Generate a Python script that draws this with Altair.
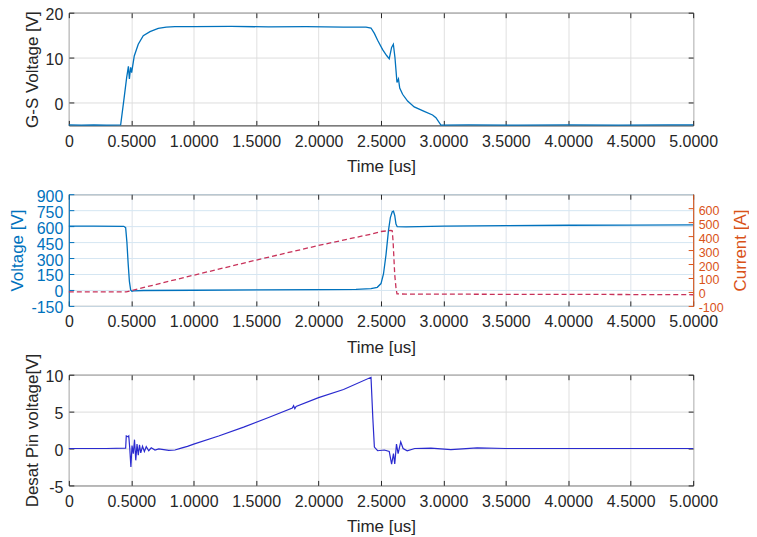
import altair as alt
import pandas as pd

# ---------------- data ----------------
# Panel 1: gate-source voltage
gs_t = [0, 0.1, 0.2, 0.3, 0.415, 0.44, 0.463, 0.477, 0.485, 0.495, 0.503, 0.524, 0.556,
        0.596, 0.65, 0.716, 0.78, 0.85, 1.0, 1.3, 1.6, 1.9, 2.2, 2.38, 2.42, 2.447, 2.473,
        2.513, 2.545, 2.566, 2.585, 2.599, 2.612, 2.628, 2.64, 2.65, 2.673, 2.713, 2.766,
        2.846, 2.913, 2.94, 2.98, 3.2, 3.6, 4.0, 4.4, 4.8, 5.0]
gs_v = [-4.9, -4.95, -4.9, -4.95, -4.9, 0.5, 5.6, 8.1, 5.3, 7.9, 6.7, 10.4, 13.0,
        14.9, 15.8, 16.5, 16.8, 16.9, 16.9, 16.95, 16.85, 16.9, 16.8, 16.8, 16.6, 15.4, 13.9,
        11.8, 10.5, 9.8, 12.3, 13.0, 10.0, 4.5, 5.3, 3.3, 1.9, 0.4, -0.9,
        -1.9, -2.7, -3.3, -4.95, -4.9, -4.95, -4.9, -4.95, -4.9, -4.9]

# Panel 2: drain-source voltage
vds_t = [0, 0.2, 0.44, 0.455, 0.465, 0.475, 0.485, 0.495, 0.505, 0.52, 0.6, 1.0, 1.5, 2.0,
         2.3, 2.42, 2.47, 2.50, 2.52, 2.54, 2.56, 2.575, 2.59, 2.60, 2.61, 2.62, 2.63, 2.7,
         3.0, 3.5, 4.0, 4.5, 5.0]
vds_v = [600, 600, 598, 585, 450, 250, 80, 0, -12, -8, -5, -3, 0, 3,
         6, 12, 25, 60, 150, 330, 560, 680, 735, 740, 700, 620, 595, 592,
         600, 605, 608, 610, 612]

# Panel 2: drain current
id_t = [0, 0.3, 0.46, 0.5, 1.0, 1.5, 2.0, 2.42, 2.5, 2.58, 2.59, 2.597, 2.61, 2.62, 2.628,
        2.7, 3.5, 4.3, 5.0]
id_v = [0, 0, 0, 10, 120, 228, 333, 414, 433, 440, 438, 361, 124, 30, -14,
        -15, -17, -18, -20]

# Panel 3: desat pin voltage
ds_t = [0, 0.3, 0.455, 0.46, 0.475, 0.48, 0.488, 0.497, 0.506, 0.516, 0.526, 0.536, 0.546,
        0.556, 0.566, 0.576, 0.59, 0.605, 0.62, 0.64, 0.66, 0.69, 0.72, 0.76, 0.8, 0.85,
        0.9, 0.95, 1.0, 1.2, 1.4, 1.6, 1.79, 1.80, 1.81, 1.82, 2.0, 2.2, 2.42, 2.435, 2.447,
        2.473, 2.527, 2.566, 2.585, 2.6, 2.61, 2.624, 2.637, 2.658, 2.677, 2.71, 2.77, 2.9,
        3.06, 3.27, 3.5, 4.0, 4.5, 5.0]
ds_v = [0, 0, 0.05, 1.7, 1.6, 1.7, 0.0, -2.5, 0.4, -0.7, 1.2, -1.6, 0.6,
        -0.9, 0.5, -0.6, 0.3, -0.4, 0.25, -0.3, 0.1, -0.2, -0.05, -0.15, -0.25, -0.2,
        0.05, 0.3, 0.6, 1.7, 2.9, 4.2, 5.5, 5.8, 5.4, 5.7, 6.9, 8.0, 9.65, 4.0, 0.2,
        -0.3, -0.2, -0.4, -2.1, -0.7, -2.1, 0.6, -0.7, 0.9, 0.0, -0.3, 0.0, 0.05,
        -0.15, 0.1, 0.0, 0.0, 0.0, 0.0]

x_ticks = [0, 0.5, 1.0, 1.5, 2.0, 2.5, 3.0, 3.5, 4.0, 4.5, 5.0]
gs_ticks = [0, 10, 20]
vds_ticks = [-150, 0, 150, 300, 450, 600, 750, 900]
id_ticks = [-100, 0, 100, 200, 300, 400, 500, 600]
ds_ticks = [-5, 0, 5, 10]

# ---------------- style ----------------
FONT = "Liberation Sans"
TXT = "#262626"
BLUE = "#0072BD"
ORANGE = "#D95319"
RED = "#C8325A"
DBLUE = "#2A2ACF"
GRID = "#e0e0e0"
W = 626

df_gs = pd.DataFrame({"t": gs_t, "v": gs_v})
df_vds = pd.DataFrame({"t": vds_t, "v": vds_v})
df_id = pd.DataFrame({"t": id_t, "i": id_v})
df_ds = pd.DataFrame({"t": ds_t, "v": ds_v})

x_label_expr = "datum.value == 0 ? '0' : format(datum.value, '.4f')"
y_label_expr = "datum.value < 0 ? '-' + format(-datum.value, 'd') : format(datum.value, 'd')"
x_scale = alt.Scale(domain=[0, 5], nice=False, zero=False)


def yscale(dom):
    return alt.Scale(domain=dom, nice=False, zero=False)


def x_main(grid_color=GRID):
    return alt.X("t:Q", scale=x_scale,
                 axis=alt.Axis(values=x_ticks, labelExpr=x_label_expr, title="Time [us]",
                               grid=True, gridColor=grid_color))


def tick_axis(orient, values, color):
    # inward ticks (MATLAB style): axis moved 5px inside, ticks pointing outward to the box
    return alt.Axis(orient=orient, values=values, labels=False, title=None, grid=False,
                    domain=False, ticks=True, tickSize=5, offset=-5, tickColor=color,
                    tickWidth=1)


def tick_layer(df, yfield, dom, yvals, x_orient, y_orient, ycolor):
    return alt.Chart(df).mark_point(opacity=0).encode(
        x=alt.X("t:Q", scale=x_scale, axis=tick_axis(x_orient, x_ticks, TXT)),
        y=alt.Y(yfield, scale=yscale(dom), axis=tick_axis(y_orient, yvals, ycolor)),
    )


# ---- panel 1
gs_dom = [-5, 20]
p1_main = alt.Chart(df_gs).mark_line(color=BLUE, strokeWidth=1.3).encode(
    x=x_main(),
    y=alt.Y("v:Q", scale=yscale(gs_dom),
            axis=alt.Axis(values=gs_ticks, labelExpr=y_label_expr, title="G-S Voltage [V]")),
)
p1 = alt.layer(
    p1_main,
    tick_layer(df_gs, "v:Q", gs_dom, gs_ticks, "top", "right", TXT),
    tick_layer(df_gs, "v:Q", gs_dom, gs_ticks, "bottom", "left", TXT),
).resolve_axis(x="independent", y="independent").properties(width=W, height=113)

# ---- panel 2
vds_dom = [-150, 900]
id_dom = [-100, 700]
volt = alt.Chart(df_vds).mark_line(color=BLUE, strokeWidth=1.3).encode(
    x=x_main("#dde3ea"),
    y=alt.Y("v:Q", scale=yscale(vds_dom),
            axis=alt.Axis(values=vds_ticks, labelExpr=y_label_expr, title="Voltage [V]",
                          orient="left", labelColor=BLUE, titleColor=BLUE,
                          gridColor="#d5e6f2", domain=True, domainColor=BLUE)),
)
cur = alt.Chart(df_id).mark_line(color=RED, strokeWidth=1.3, strokeDash=[5, 3]).encode(
    x=alt.X("t:Q", scale=x_scale, axis=None),
    y=alt.Y("i:Q", scale=yscale(id_dom),
            axis=alt.Axis(values=id_ticks, labelExpr=y_label_expr, title="Current [A]",
                          orient="right", labelColor=ORANGE, titleColor=ORANGE, grid=False,
                          labelFontSize=12.5, labelPadding=5, titlePadding=9,
                          titleAngle=270, titleBaseline="top",
                          domain=True, domainColor=ORANGE)),
)
p2 = alt.layer(
    volt,
    cur,
    tick_layer(df_vds, "v:Q", vds_dom, vds_ticks, "top", "left", BLUE),
    tick_layer(df_id, "i:Q", id_dom, id_ticks, "bottom", "right", ORANGE),
).resolve_scale(y="independent").resolve_axis(x="independent", y="independent").properties(
    width=W, height=112)

# ---- panel 3
ds_dom = [-5, 10]
p3_main = alt.Chart(df_ds).mark_line(color=DBLUE, strokeWidth=1.2).encode(
    x=x_main(),
    y=alt.Y("v:Q", scale=yscale(ds_dom),
            axis=alt.Axis(values=ds_ticks, labelExpr=y_label_expr,
                          title="Desat Pin voltage[V]")),
)
p3 = alt.layer(
    p3_main,
    tick_layer(df_ds, "v:Q", ds_dom, ds_ticks, "top", "right", TXT),
    tick_layer(df_ds, "v:Q", ds_dom, ds_ticks, "bottom", "left", TXT),
).resolve_axis(x="independent", y="independent").properties(width=W, height=111)

chart = alt.vconcat(p1, p2, p3, spacing=69, bounds="flush").properties(
    padding={"top": -3, "left": 0, "right": 0, "bottom": 0}
).configure_view(
    stroke=TXT, strokeWidth=1
).configure_axis(
    labelFont=FONT, labelFontSize=16, labelColor=TXT, labelOverlap=False,
    titleFont=FONT, titleFontSize=17, titleFontWeight="normal", titleColor=TXT,
    domain=False, ticks=False, tickSize=0, labelPadding=6, gridWidth=1,
).configure_axisX(
    labelPadding=8, titlePadding=9.5, labelFlush=False,
).configure_axisY(
    titlePadding=4, labelOffset=2,
)

chart.save("out.html", embed_options={"renderer": "svg", "actions": False})
